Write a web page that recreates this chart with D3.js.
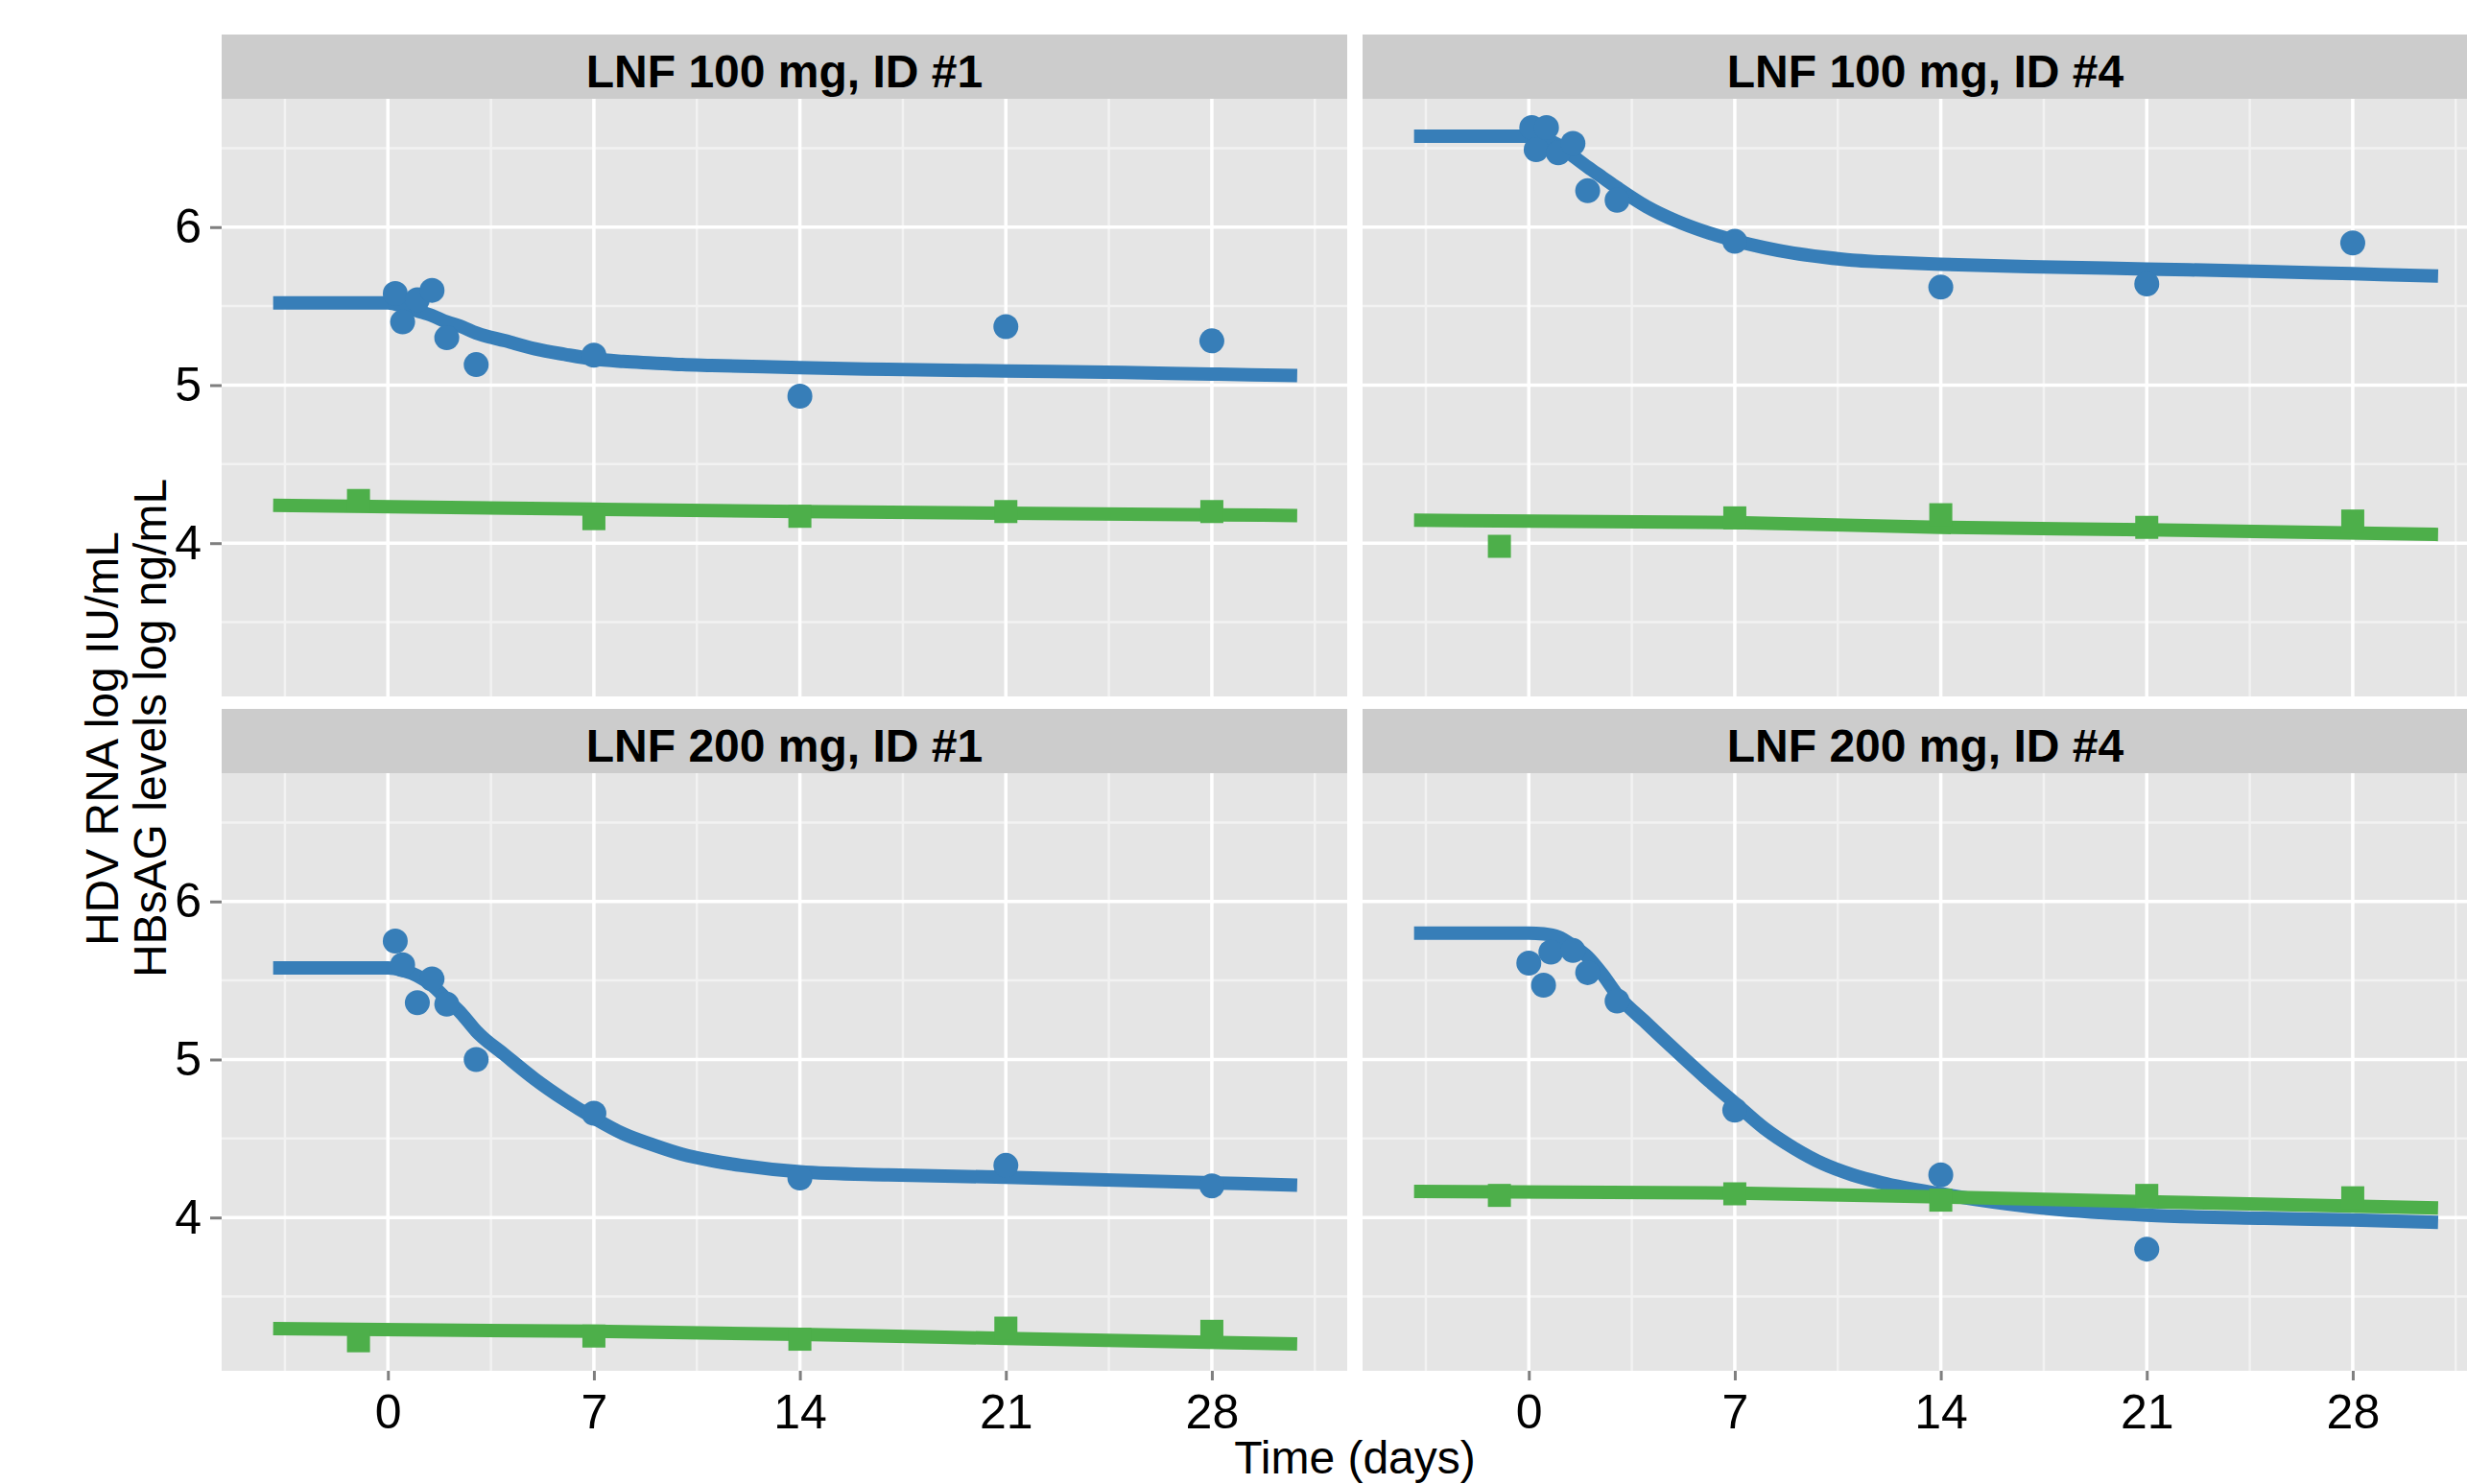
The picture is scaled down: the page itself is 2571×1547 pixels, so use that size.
<!DOCTYPE html>
<html>
<head>
<meta charset="utf-8">
<script src="https://cdn.jsdelivr.net/npm/d3@7"></script>
<style>
  html, body { margin: 0; padding: 0; background: #fff; }
  svg { display: block; font-family: "Liberation Sans", Arial, sans-serif; }
</style>
</head>
<body>
<div id="chart"></div>
<script>
// panel titles (row by row)
const panelTitles = ["LNF 100 mg, ID #1", "LNF 100 mg, ID #4", "LNF 200 mg, ID #1", "LNF 200 mg, ID #4"];

// axis ticks
const xTicks = [0, 7, 14, 21, 28];
const xMinor = [-3.5, 3.5, 10.5, 17.5, 24.5, 31.5];
const yTicks = [4, 5, 6];
const yMinor = [3.5, 4.5, 5.5, 6.5];

// fitted HDV RNA curves
const rnaFitDays = [-3.9, 0, 0.5, 1, 1.5, 2, 2.5, 3, 4, 5, 6, 7, 8, 9, 10, 11, 12, 14, 17, 21, 25, 28, 30.9];
const rnaFit1 = [5.52, 5.52, 5.50, 5.47, 5.44, 5.40, 5.37, 5.33, 5.28, 5.23, 5.195, 5.165, 5.15, 5.14, 5.13, 5.125, 5.12, 5.11, 5.10, 5.09, 5.08, 5.07, 5.06];
const rnaFit2 = [6.575, 6.575, 6.56, 6.52, 6.45, 6.38, 6.315, 6.25, 6.13, 6.04, 5.97, 5.915, 5.87, 5.835, 5.81, 5.79, 5.78, 5.765, 5.75, 5.735, 5.72, 5.705, 5.69];
const rnaFit3 = [5.58, 5.58, 5.565, 5.53, 5.47, 5.38, 5.29, 5.18, 5.025, 4.875, 4.745, 4.63, 4.53, 4.46, 4.40, 4.36, 4.33, 4.29, 4.27, 4.255, 4.235, 4.22, 4.205];
const rnaFit4 = [5.80, 5.80, 5.795, 5.775, 5.72, 5.65, 5.54, 5.41, 5.23, 5.055, 4.885, 4.725, 4.565, 4.44, 4.34, 4.27, 4.22, 4.15, 4.07, 4.015, 3.995, 3.985, 3.97];

// fitted HBsAg curves
const hbsFitDays = [-3.9, 7, 14, 21, 30.9];
const hbsFit1 = [4.24, 4.215, 4.20, 4.19, 4.175];
const hbsFit2 = [4.145, 4.13, 4.10, 4.085, 4.055];
const hbsFit3 = [3.297, 3.28, 3.26, 3.235, 3.20];
const hbsFit4 = [4.165, 4.155, 4.13, 4.10, 4.06];

// observed HDV RNA
const rnaDays1 = [0.25, 0.5, 1, 1.5, 2, 3, 7, 14, 21, 28];
const rnaObs1 = [5.58, 5.40, 5.54, 5.60, 5.30, 5.13, 5.19, 4.93, 5.37, 5.28];
const rnaDays2 = [0.1, 0.25, 0.6, 1, 1.5, 2, 3, 7, 14, 21, 28];
const rnaObs2 = [6.63, 6.49, 6.63, 6.47, 6.53, 6.23, 6.17, 5.91, 5.62, 5.64, 5.90];
const rnaDays3 = [0.25, 0.5, 1, 1.5, 2, 3, 7, 14, 21, 28];
const rnaObs3 = [5.75, 5.60, 5.36, 5.51, 5.35, 5.00, 4.66, 4.25, 4.33, 4.20];
const rnaDays4 = [0, 0.5, 0.75, 1.5, 2, 3, 7, 14, 21];
const rnaObs4 = [5.61, 5.47, 5.68, 5.69, 5.55, 5.37, 4.68, 4.27, 3.80];

// observed HBsAg
const hbsDays = [-1, 7, 14, 21, 28];
const hbsObs1 = [4.27, 4.155, 4.17, 4.20, 4.20];
const hbsObs2 = [3.98, 4.16, 4.18, 4.10, 4.14];
const hbsObs3 = [3.22, 3.25, 3.23, 3.30, 3.28];
const hbsObs4 = [4.14, 4.15, 4.11, 4.14, 4.125];

const blue = '#377EB8', green = '#4DAF4A';

const W = 2571, H = 1547;
const panelW = 1173, panelH = 623, stripH = 67;
const colX = [231, 1420];
const rowY = [103, 806];
const font = '"Liberation Sans", Arial, sans-serif';

const zip = (xs, ys) => xs.map((d, i) => ({ x: d, y: ys[i] }));

const panels = [
  { title: panelTitles[0], col: 0, row: 0, rnaFit: zip(rnaFitDays, rnaFit1), hbsFit: zip(hbsFitDays, hbsFit1), rna: zip(rnaDays1, rnaObs1), hbs: zip(hbsDays, hbsObs1) },
  { title: panelTitles[1], col: 1, row: 0, rnaFit: zip(rnaFitDays, rnaFit2), hbsFit: zip(hbsFitDays, hbsFit2), rna: zip(rnaDays2, rnaObs2), hbs: zip(hbsDays, hbsObs2) },
  { title: panelTitles[2], col: 0, row: 1, rnaFit: zip(rnaFitDays, rnaFit3), hbsFit: zip(hbsFitDays, hbsFit3), rna: zip(rnaDays3, rnaObs3), hbs: zip(hbsDays, hbsObs3) },
  { title: panelTitles[3], col: 1, row: 1, rnaFit: zip(rnaFitDays, rnaFit4), hbsFit: zip(hbsFitDays, hbsFit4), rna: zip(rnaDays4, rnaObs4), hbs: zip(hbsDays, hbsObs4) }
];

const x = d3.scaleLinear().domain([-5.65, 32.6]).range([0, panelW]);
const y = d3.scaleLinear().domain([3.03, 6.812]).range([panelH, 0]);

const svg = d3.select('#chart').append('svg')
  .attr('width', W).attr('height', H);
svg.append('rect').attr('width', W).attr('height', H).attr('fill', '#fff');

const line = d3.line().x(d => x(d.x)).y(d => y(d.y)).curve(d3.curveMonotoneX);

panels.forEach(p => {
  const g = svg.append('g').attr('transform', `translate(${colX[p.col]},${rowY[p.row]})`);

  // strip
  g.append('rect').attr('x', 0).attr('y', -stripH).attr('width', panelW).attr('height', stripH).attr('fill', '#CCCCCC');
  g.append('text').attr('x', panelW / 2).attr('y', -12)
    .attr('text-anchor', 'middle').attr('font-size', 48).attr('font-weight', 'bold').attr('fill', '#000')
    .text(p.title);

  // panel background and grid
  g.append('rect').attr('width', panelW).attr('height', panelH).attr('fill', '#E5E5E5');
  g.selectAll('.xminor').data(xMinor).enter().append('line')
    .attr('x1', d => x(d)).attr('x2', d => x(d)).attr('y1', 0).attr('y2', panelH)
    .attr('stroke', '#F2F2F2').attr('stroke-width', 2.5);
  g.selectAll('.yminor').data(yMinor).enter().append('line')
    .attr('y1', d => y(d)).attr('y2', d => y(d)).attr('x1', 0).attr('x2', panelW)
    .attr('stroke', '#F2F2F2').attr('stroke-width', 2.5);
  g.selectAll('.xmajor').data(xTicks).enter().append('line')
    .attr('x1', d => x(d)).attr('x2', d => x(d)).attr('y1', 0).attr('y2', panelH)
    .attr('stroke', '#fff').attr('stroke-width', 3.5);
  g.selectAll('.ymajor').data(yTicks).enter().append('line')
    .attr('y1', d => y(d)).attr('y2', d => y(d)).attr('x1', 0).attr('x2', panelW)
    .attr('stroke', '#fff').attr('stroke-width', 3.5);

  // curves
  g.append('path').datum(p.rnaFit).attr('d', line)
    .attr('fill', 'none').attr('stroke', blue).attr('stroke-width', 14);
  g.append('path').datum(p.hbsFit).attr('d', line)
    .attr('fill', 'none').attr('stroke', green).attr('stroke-width', 14);

  // observations
  g.selectAll('.rna').data(p.rna).enter().append('circle')
    .attr('cx', d => x(d.x)).attr('cy', d => y(d.y)).attr('r', 13).attr('fill', blue);
  g.selectAll('.hbs').data(p.hbs).enter().append('rect')
    .attr('x', d => x(d.x) - 12).attr('y', d => y(d.y) - 12)
    .attr('width', 24).attr('height', 24).attr('fill', green);

  // y axis on left column
  if (p.col === 0) {
    const ay = g.append('g').call(d3.axisLeft(y).tickValues(yTicks).tickFormat(d3.format('d')).tickSize(12).tickPadding(9));
    ay.select('.domain').remove();
    ay.selectAll('line').attr('stroke', '#7F7F7F').attr('stroke-width', 3);
    ay.selectAll('text').attr('font-size', 50).attr('fill', '#000').attr('font-family', font);
  }
  // x axis on bottom row
  if (p.row === 1) {
    const ax = g.append('g').attr('transform', `translate(0,${panelH})`)
      .call(d3.axisBottom(x).tickValues(xTicks).tickSize(10).tickPadding(14));
    ax.select('.domain').remove();
    ax.selectAll('line').attr('stroke', '#7F7F7F').attr('stroke-width', 3);
    ax.selectAll('text').attr('font-size', 50).attr('fill', '#000').attr('font-family', font);
  }
});

// axis titles
svg.append('text').attr('x', (colX[0] + colX[1] + panelW) / 2).attr('y', 1536)
  .attr('text-anchor', 'middle').attr('font-size', 48).attr('fill', '#000')
  .text('Time (days)');

svg.append('text').attr('transform', 'translate(123,770) rotate(-90)')
  .attr('text-anchor', 'middle').attr('font-size', 48).attr('fill', '#000')
  .text('HDV RNA log IU/mL');
svg.append('text').attr('transform', 'translate(173,759) rotate(-90)')
  .attr('text-anchor', 'middle').attr('font-size', 48).attr('fill', '#000')
  .text('HBsAG levels log ng/mL');
</script>
</body>
</html>
